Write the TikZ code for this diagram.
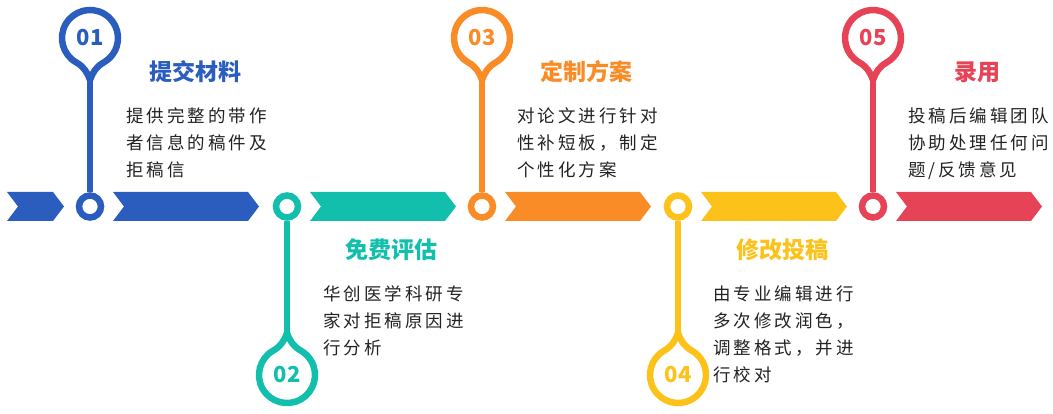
\documentclass[tikz,border=0pt]{standalone}
\usepackage{fontspec}
\setmainfont{Noto Sans CJK SC}
\newfontfamily\cjkspaced[LetterSpace=17]{Noto Sans CJK SC}
\usetikzlibrary{positioning, calc}

\definecolor{stepblue}{HTML}{2A5DBD}
\definecolor{stepteal}{HTML}{12BFAD}
\definecolor{steporange}{HTML}{FA8C28}
\definecolor{stepyellow}{HTML}{FCC21A}
\definecolor{stepred}{HTML}{E64356}
\definecolor{bodygray}{HTML}{222222}

\begin{document}
\begin{tikzpicture}[x=1pt, y=1pt,
    stalk/.style={line width=6.5pt, line join=round},
    ring/.style={circle, draw, fill=white, line width=6.5pt, minimum size=22pt, inner sep=0pt},
    badge/.style={circle, minimum size=56pt, inner sep=0pt, outer sep=0pt,
                  font=\bfseries\fontsize{22}{22}\selectfont},
    headline/.style={font=\bfseries\fontsize{23}{23}\selectfont, inner sep=0pt},
    desc/.style={font=\cjkspaced\fontsize{17.5}{27}\selectfont, align=left,
                 inner sep=0pt, text=bodygray, anchor=north west}]
  \useasboundingbox (0,0) rectangle (1053,413);

  % Arrow band
  \fill[stepblue] (7,221) -- (53,221) -- (64,206.5) -- (53,192) -- (7,192) -- (18,206.5) -- cycle;
  \fill[stepblue] (113,221) -- (248,221) -- (259,206.5) -- (248,192) -- (113,192) -- (124,206.5) -- cycle;
  \fill[stepteal] (310,221) -- (445,221) -- (456,206.5) -- (445,192) -- (310,192) -- (321,206.5) -- cycle;
  \fill[steporange] (505,221) -- (640,221) -- (651,206.5) -- (640,192) -- (505,192) -- (516,206.5) -- cycle;
  \fill[stepyellow] (701,221) -- (836,221) -- (847,206.5) -- (836,192) -- (701,192) -- (712,206.5) -- cycle;
  \fill[stepred] (896,221) -- (1031,221) -- (1042,206.5) -- (1031,192) -- (896,192) -- (907,206.5) -- cycle;

  % Pins on top
  \node[badge, text=stepblue] (n1) at (90,375) {01};
  \node[badge, text=steporange] (n3) at (482,375) {03};
  \node[badge, text=stepred] (n5) at (873,375) {05};
  \coordinate[below=14pt of n1] (t1);
  \coordinate[below=14pt of n3] (t3);
  \coordinate[below=14pt of n5] (t5);
  \draw[stalk, stepblue] (n1.240) arc[start angle=240, end angle=-60, radius=28pt]
    to[out=210, in=70] (t1) to[out=110, in=330] (n1.240);
  \draw[stalk, steporange] (n3.240) arc[start angle=240, end angle=-60, radius=28pt]
    to[out=210, in=70] (t3) to[out=110, in=330] (n3.240);
  \draw[stalk, stepred] (n5.240) arc[start angle=240, end angle=-60, radius=28pt]
    to[out=210, in=70] (t5) to[out=110, in=330] (n5.240);

  % Pins below
  \node[badge, text=stepteal] (n2) at (287,38) {02};
  \node[badge, text=stepyellow] (n4) at (678,38) {04};
  \coordinate[above=14pt of n2] (t2);
  \coordinate[above=14pt of n4] (t4);
  \draw[stalk, stepteal] (n2.120) arc[start angle=120, end angle=420, radius=28pt]
    to[out=150, in=290] (t2) to[out=250, in=30] (n2.120);
  \draw[stalk, stepyellow] (n4.120) arc[start angle=120, end angle=420, radius=28pt]
    to[out=150, in=290] (t4) to[out=250, in=30] (n4.120);

  % Rings on the band
  \node[ring, draw=stepblue] (d1) at (90,206.5) {};
  \node[ring, draw=stepteal] (d2) at (287,206.5) {};
  \node[ring, draw=steporange] (d3) at (482,206.5) {};
  \node[ring, draw=stepyellow] (d4) at (678,206.5) {};
  \node[ring, draw=stepred] (d5) at (873,206.5) {};
  \draw[stalk, stepblue] (t1) -- (d1);
  \draw[stalk, stepteal] (t2) -- (d2);
  \draw[stalk, steporange] (t3) -- (d3);
  \draw[stalk, stepyellow] (t4) -- (d4);
  \draw[stalk, stepred] (t5) -- (d5);

  % Steps
  \node[headline, text=stepblue] (h1) at (195,341) {提交材料};
  \node[desc] (b1) at (126,306) {提供完整的带作\\者信息的稿件及\\拒稿信};
  \node[headline, text=stepteal] (h2) at (391,163) {免费评估};
  \node[desc] (b2) at (323,128) {华创医学科研专\\家对拒稿原因进\\行分析};
  \node[headline, text=steporange] (h3) at (586,341) {定制方案};
  \node[desc] (b3) at (517,306) {对论文进行针对\\性补短板，制定\\个性化方案};
  \node[headline, text=stepyellow] (h4) at (782,163) {修改投稿};
  \node[desc] (b4) at (713,128) {由专业编辑进行\\多次修改润色，\\调整格式，并进\\行校对};
  \node[headline, text=stepred] (h5) at (977,341) {录用};
  \node[desc] (b5) at (908,306) {投稿后编辑团队\\协助处理任何问\\题/反馈意见};
\end{tikzpicture}
\end{document}
